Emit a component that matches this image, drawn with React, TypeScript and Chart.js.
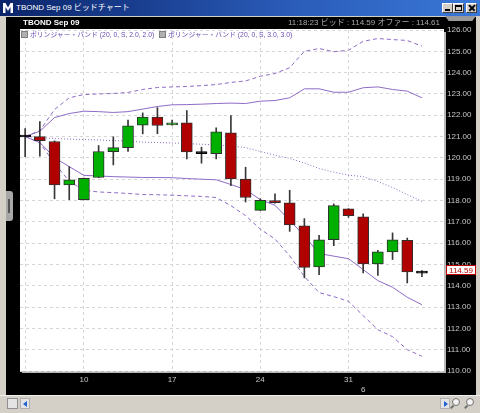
import React, { useEffect, useRef } from "react";
import { Chart, registerables } from "chart.js";

Chart.register(...registerables);

// ---- data ----
const barIndex = [0, 1, 2, 3, 4, 5, 6, 7, 8, 9, 10, 11, 12, 13, 14, 15, 16, 17, 18, 19, 20, 21, 22, 23, 24, 25, 26, 27];
const opens = [121.0, 121.0, 120.77, 118.73, 118.04, 119.08, 120.29, 120.48, 121.53, 121.92, 121.55, 121.64, 120.22, 120.2, 121.17, 119.01, 117.54, 118.0, 117.89, 116.81, 114.88, 116.16, 117.61, 117.23, 115.02, 115.59, 116.13, 114.62];
const highs = [121.37, 121.7, 120.8, 119.59, 119.05, 120.58, 120.99, 121.77, 122.11, 122.36, 121.77, 122.22, 120.5, 121.41, 121.99, 119.56, 118.08, 118.31, 118.48, 117.15, 116.37, 117.84, 117.62, 117.38, 115.66, 116.48, 116.24, 114.71];
const lows = [120.06, 120.08, 118.08, 118.04, 118.03, 119.07, 119.67, 120.3, 121.13, 121.13, 121.53, 119.95, 119.75, 119.95, 118.7, 117.93, 117.53, 117.87, 116.55, 114.37, 114.52, 115.88, 117.21, 114.6, 114.49, 115.23, 114.13, 114.43];
const closes = [120.98, 120.81, 118.73, 118.97, 119.04, 120.3, 120.48, 121.5, 121.92, 121.52, 121.64, 120.28, 120.2, 121.22, 119.01, 118.14, 118.01, 117.9, 116.85, 114.86, 116.16, 117.76, 117.29, 115.02, 115.59, 116.16, 114.65, 114.59];

const bbMiddle = [121.0, 120.95, 120.91, 120.88, 120.86, 120.84, 120.81, 120.79, 120.74, 120.72, 120.7, 120.67, 120.64, 120.61, 120.56, 120.48, 120.3, 120.13, 119.97, 119.76, 119.5, 119.33, 119.19, 119.12, 118.89, 118.61, 118.28, 117.96];
const bbUpper2 = [121.0, 121.25, 121.89, 122.08, 122.19, 122.17, 122.13, 122.17, 122.29, 122.41, 122.49, 122.5, 122.52, 122.55, 122.57, 122.55, 122.66, 122.69, 122.82, 123.24, 123.24, 123.08, 123.08, 123.29, 123.33, 123.21, 123.13, 122.82];
const bbLower2 = [121.0, 120.72, 120.01, 119.59, 119.18, 119.15, 119.12, 119.1, 119.08, 119.08, 119.07, 119.03, 119.0, 118.97, 118.75, 118.51, 118.04, 117.78, 117.06, 116.35, 115.51, 115.39, 115.27, 114.76, 114.24, 113.93, 113.46, 113.11];
const bbUpper3 = [121.0, 121.28, 122.27, 122.82, 122.97, 123.0, 123.02, 123.07, 123.21, 123.3, 123.33, 123.35, 123.39, 123.44, 123.54, 123.61, 123.83, 123.96, 124.23, 125.0, 125.13, 124.98, 125.05, 125.47, 125.6, 125.55, 125.51, 125.24];
const bbLower3 = [121.0, 120.7, 119.75, 118.9, 118.48, 118.4, 118.37, 118.33, 118.28, 118.27, 118.25, 118.22, 118.19, 118.14, 117.76, 117.29, 116.66, 116.19, 115.41, 114.43, 113.68, 113.49, 113.27, 112.6, 111.94, 111.61, 111.0, 110.69];

const xTickValues = [0, 4, 10, 16, 22, 23];
const xTickLabels: (string | string[])[] = ["", "10", "17", "24", "31", ["", "6"]];
const yMin = 110;
const yMax = 126;
const lastPrice = 114.59;

const windowTitle = "TBOND Sep 09 ビッドチャート";
const chartTitle = "TBOND Sep 09";
const quoteText = "11:18:23  ビッド : 114.59  オファー : 114.61";
const legendItems = ["ボリンジャー・バンド (20, 0, S, 2.0, 2.0)", "ボリンジャー・バンド (20, 0, S, 3.0, 3.0)"];

// ---- styles ----
const LATIN = "'Liberation Sans', Arial, 'Noto Sans CJK JP', sans-serif";
const BAND = "#8f6cc6";
const UP = "#00b000";
const DOWN = "#b00000";

const bgPlugin = {
  id: "bgPlugin",
  beforeDraw(chart: any) {
    const { ctx, chartArea: a, width, height } = chart;
    ctx.save();
    ctx.fillStyle = "#000";
    ctx.fillRect(0, 0, width, height);
    ctx.fillStyle = "#b8b8b8";
    ctx.fillRect(a.right, a.top + 2, 2, a.bottom - a.top);
    ctx.fillRect(a.left + 2, a.bottom, a.right - a.left, 2);
    ctx.fillStyle = "#fff";
    ctx.fillRect(a.left, a.top - 1, a.right - a.left, a.bottom - a.top + 1);
    ctx.restore();
  },
};

const pricePlugin = {
  id: "pricePlugin",
  afterDraw(chart: any) {
    const { ctx, chartArea: a } = chart;
    const y = Math.round(chart.scales.y.getPixelForValue(lastPrice) - 3);
    ctx.save();
    ctx.fillStyle = "#fff";
    ctx.fillRect(a.right + 2, y - 5, 30, 10);
    ctx.strokeStyle = "#c00000";
    ctx.lineWidth = 1;
    ctx.strokeRect(a.right + 2.5, y - 4.5, 29, 9);
    ctx.fillStyle = "#c00000";
    ctx.font = `8px ${LATIN}`;
    ctx.textAlign = "center";
    ctx.textBaseline = "middle";
    ctx.fillText(lastPrice.toFixed(2), a.right + 17, y + 0.5);
    ctx.restore();
  },
};

function lineSet(values: number[], dash: number[]) {
  return {
    type: "line" as const,
    data: barIndex.map((i) => ({ x: i, y: values[i] })),
    borderColor: BAND,
    borderWidth: 1,
    borderDash: dash,
    pointRadius: 0,
    tension: 0,
    fill: false,
    order: 5,
  };
}

function Btn({ left, children }: { left: number; children?: any }) {
  return (
    <div
      style={{
        position: "absolute",
        left,
        top: 3,
        width: 11,
        height: 10,
        boxSizing: "border-box",
        background: "#d4d0c8",
        borderTop: "1px solid #fff",
        borderLeft: "1px solid #fff",
        borderRight: "1px solid #404040",
        borderBottom: "1px solid #404040",
      }}
    >
      {children}
    </div>
  );
}

export default function App() {
  const ref = useRef<HTMLCanvasElement>(null);

  useEffect(() => {
    const canvas = ref.current!;
    const isDoji = (i: number) => Math.abs(opens[i] - closes[i]) < 0.05;
    const bodyColors = barIndex.map((i) => (isDoji(i) ? "#000" : closes[i] > opens[i] ? UP : DOWN));
    const bodyBorders = barIndex.map((i) => (isDoji(i) ? "#000" : "#303030"));

    const chart = new Chart(canvas, {
      type: "bar",
      data: {
        datasets: [
          lineSet(bbUpper3, [4, 3]),
          lineSet(bbLower3, [4, 3]),
          lineSet(bbUpper2, []),
          lineSet(bbLower2, []),
          lineSet(bbMiddle, [1, 2]),
          {
            type: "bar",
            data: barIndex.map((i) => ({ x: i, y: [lows[i], highs[i]] })),
            backgroundColor: "#383838",
            barThickness: 1,
            grouped: false,
            order: 2,
          } as any,
          {
            type: "bar",
            data: barIndex.map((i) => ({ x: i, y: [opens[i], closes[i]] })),
            backgroundColor: bodyColors,
            borderColor: bodyBorders,
            borderWidth: 1,
            borderSkipped: false,
            barThickness: 11,
            minBarLength: 2,
            grouped: false,
            order: 1,
          } as any,
        ],
      },
      options: {
        responsive: false,
        animation: false,
        devicePixelRatio: 1,
        layout: { padding: { left: 14, top: 13, right: 0, bottom: 0 } },
        plugins: { legend: { display: false }, tooltip: { enabled: false }, title: { display: false } },
        scales: {
          x: {
            type: "linear",
            min: -0.35,
            max: 28.5,
            offset: false,
            grid: {
              color: (c: any) => (c.tick && c.tick.value === 23 ? "rgba(0,0,0,0)" : "#d6d6d6"),
              drawTicks: false,
              offset: false,
            },
            border: { display: false, dash: [3, 3] },
            ticks: {
              autoSkip: false,
              maxRotation: 0,
              padding: 4,
              color: "#c8c8c8",
              font: { family: LATIN, size: 8 },
              callback: (v: any) => {
                const k = xTickValues.indexOf(Number(v));
                return k >= 0 ? xTickLabels[k] : "";
              },
            },
            afterBuildTicks: (s: any) => {
              s.ticks = xTickValues.map((v) => ({ value: v }));
            },
            afterFit: (s: any) => {
              s.height = 24;
            },
          },
          y: {
            position: "right",
            min: yMin,
            max: yMax,
            beginAtZero: false,
            grid: { color: "#d6d6d6", drawTicks: false },
            border: { display: false, dash: [3, 3] },
            ticks: {
              stepSize: 1,
              padding: 3,
              color: "#c8c8c8",
              font: { family: LATIN, size: 8 },
              callback: (v: any) => Number(v).toFixed(2),
            },
            afterFit: (s: any) => {
              s.width = 32;
            },
          },
        },
      } as any,
      plugins: [bgPlugin, pricePlugin],
    });
    return () => chart.destroy();
  }, []);

  return (
    <div
      style={{
        position: "fixed",
        left: 0,
        top: 0,
        width: 480,
        height: 413,
        background: "#d4d0c8",
        overflow: "hidden",
        fontFamily: LATIN,
      }}
    >
      {/* title bar */}
      <div
        style={{
          position: "absolute",
          left: 0,
          top: 0,
          width: 480,
          height: 16,
          background: "linear-gradient(to right, #0a246a, #2a5bb8 60%, #3a78d8)",
        }}
      >
        <div style={{ position: "absolute", left: 3, top: 3, width: 10, height: 10, background: "#fff", clipPath: "polygon(0 0, 25% 0, 50% 45%, 75% 0, 100% 0, 100% 100%, 75% 100%, 75% 40%, 50% 80%, 25% 40%, 25% 100%, 0 100%)" }} />
        <div style={{ position: "absolute", left: 16, top: 2, height: 12, lineHeight: "12px", fontSize: 8, color: "#fff", whiteSpace: "nowrap" }}>{windowTitle}</div>
        <Btn left={442}>
          <div style={{ position: "absolute", left: 2, top: 5, width: 5, height: 2, background: "#000" }} />
        </Btn>
        <Btn left={453}>
          <div style={{ position: "absolute", left: 1, top: 1, width: 7, height: 6, boxSizing: "border-box", border: "1px solid #000", borderTopWidth: 2 }} />
        </Btn>
        <Btn left={466}>
          <div style={{ position: "absolute", left: 1, top: 3, width: 8, height: 1.5, background: "#000", transform: "rotate(45deg)" }} />
          <div style={{ position: "absolute", left: 1, top: 3, width: 8, height: 1.5, background: "#000", transform: "rotate(-45deg)" }} />
        </Btn>
      </div>

      {/* chart canvas (black area) */}
      <canvas ref={ref} width={470} height={378} style={{ position: "absolute", left: 6, top: 17, width: 470, height: 378 }} />

      {/* header texts */}
      <div style={{ position: "absolute", left: 23, top: 17, height: 11, lineHeight: "11px", fontSize: 8, fontWeight: "bold", color: "#fff", whiteSpace: "nowrap" }}>{chartTitle}</div>
      <div style={{ position: "absolute", right: 40, top: 17, height: 11, lineHeight: "11px", fontSize: 8, color: "#a8a8a8", whiteSpace: "nowrap", textAlign: "right" }}>{quoteText}</div>

      {/* top-right tab */}
      <div style={{ position: "absolute", left: 445, top: 16, width: 31, height: 5, background: "#9a9a9a", clipPath: "polygon(0 0, 100% 0, 88% 100%, 12% 100%)" }} />

      {/* legend */}
      <div style={{ position: "absolute", left: 21, top: 31, width: 7, height: 7, boxSizing: "border-box", border: "1px solid #808080", background: "#b0b0b0" }} />
      <div style={{ position: "absolute", left: 30, top: 30, height: 9, lineHeight: "9px", fontSize: 6.8, color: "#6a4cb4", whiteSpace: "nowrap" }}>{legendItems[0]}</div>
      <div style={{ position: "absolute", left: 159, top: 31, width: 7, height: 7, boxSizing: "border-box", border: "1px solid #808080", background: "#b0b0b0" }} />
      <div style={{ position: "absolute", left: 168, top: 30, height: 9, lineHeight: "9px", fontSize: 6.8, color: "#6a4cb4", whiteSpace: "nowrap" }}>{legendItems[1]}</div>

      {/* left grip */}
      <div style={{ position: "absolute", left: 6, top: 191, width: 7, height: 30, background: "#a8a8a8", borderRadius: "0 3px 3px 0" }}>
        <div style={{ position: "absolute", left: 2, top: 8, width: 2, height: 14, background: "#555" }} />
      </div>

      {/* bottom bar */}
      <div style={{ position: "absolute", left: 0, top: 395, width: 480, height: 18, background: "#d4d0c8", borderTop: "1px solid #f0f0f0", boxSizing: "border-box" }}>
        <div style={{ position: "absolute", left: 7, top: 2, width: 11, height: 11, boxSizing: "border-box", border: "1px solid #909090", background: "#e4e4e4" }} />
        <div style={{ position: "absolute", left: 20, top: 2, width: 10, height: 11, boxSizing: "border-box", border: "1px solid #b0b0b0", background: "#e4e4e4" }}>
          <div style={{ position: "absolute", left: 2, top: 2, width: 4, height: 6, background: "#2060d0", clipPath: "polygon(100% 0, 100% 100%, 0 50%)" }} />
        </div>
        <div style={{ position: "absolute", left: 440, top: 2, width: 10, height: 11, boxSizing: "border-box", border: "1px solid #b0b0b0", background: "#e4e4e4" }}>
          <div style={{ position: "absolute", left: 3, top: 2, width: 4, height: 6, background: "#2060d0", clipPath: "polygon(0 0, 100% 50%, 0 100%)" }} />
        </div>
        <div style={{ position: "absolute", left: 452, top: 2, width: 8, height: 8, boxSizing: "border-box", border: "1px solid #707070", borderRadius: "50%", background: "#f4f4f4" }} />
        <div style={{ position: "absolute", left: 450, top: 10, width: 4, height: 1.5, background: "#707070", transform: "rotate(-45deg)" }} />
        <div style={{ position: "absolute", left: 466, top: 2, width: 8, height: 8, boxSizing: "border-box", border: "1px solid #707070", borderRadius: "50%", background: "#f4f4f4" }} />
        <div style={{ position: "absolute", left: 464, top: 10, width: 4, height: 1.5, background: "#707070", transform: "rotate(-45deg)" }} />
      </div>
    </div>
  );
}
